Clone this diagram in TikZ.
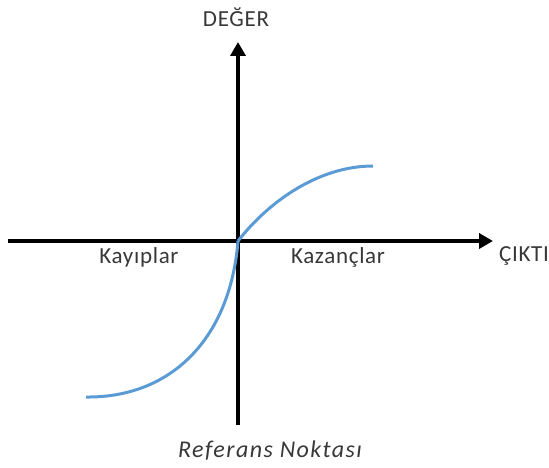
\documentclass[tikz,border=0pt]{standalone}
\usepackage{fontspec}
\setmainfont{Carlito}
\usepackage{xcolor}
\usepackage{tikz}
\usetikzlibrary{arrows.meta, positioning}
\definecolor{curveblue}{HTML}{5B9BD5}
\definecolor{labelgray}{HTML}{383838}

\begin{document}
\begin{tikzpicture}[
  x=1pt, y=-1pt,
  font=\fontsize{23}{26}\selectfont\addfontfeatures{LetterSpace=3},
  axis/.style={draw, line width=4.5pt, -{Triangle[length=14pt,width=15pt]}},
  curve/.style={draw=curveblue, line width=3pt},
  label/.style={text=labelgray, inner sep=0pt, anchor=base}
]
  \useasboundingbox (0,0) rectangle (549,468);
  \coordinate (origin) at (238,241);
  \coordinate (xstart) at (8,241);
  \coordinate (xend) at (493,241);
  \coordinate (ystart) at (238,425);
  \coordinate (yend) at (238,42);
  \coordinate (gainend) at (373,166);
  \coordinate (lossend) at (86,397);

  \draw [axis] (xstart) -- (xend);
  \draw [axis] (ystart) -- (yend);
  \draw [curve] (origin) .. controls (270,200) and (320,166) .. (gainend);
  \draw [curve] (origin) .. controls (230,340) and (170,398) .. (lossend);

  \node [label] (value) at (236,27) {DEĞER};
  \node [label] (output) at (524,261) {ÇIKTI};
  \node [label] (losses) at (139,263) {Kayıplar};
  \node [label] (gains) at (338,263) {Kazançlar};
  \node [label, font=\fontsize{24}{27}\selectfont\itshape\addfontfeatures{LetterSpace=6}] (refpoint) at (270,457) {Referans Noktası};
\end{tikzpicture}
\end{document}
